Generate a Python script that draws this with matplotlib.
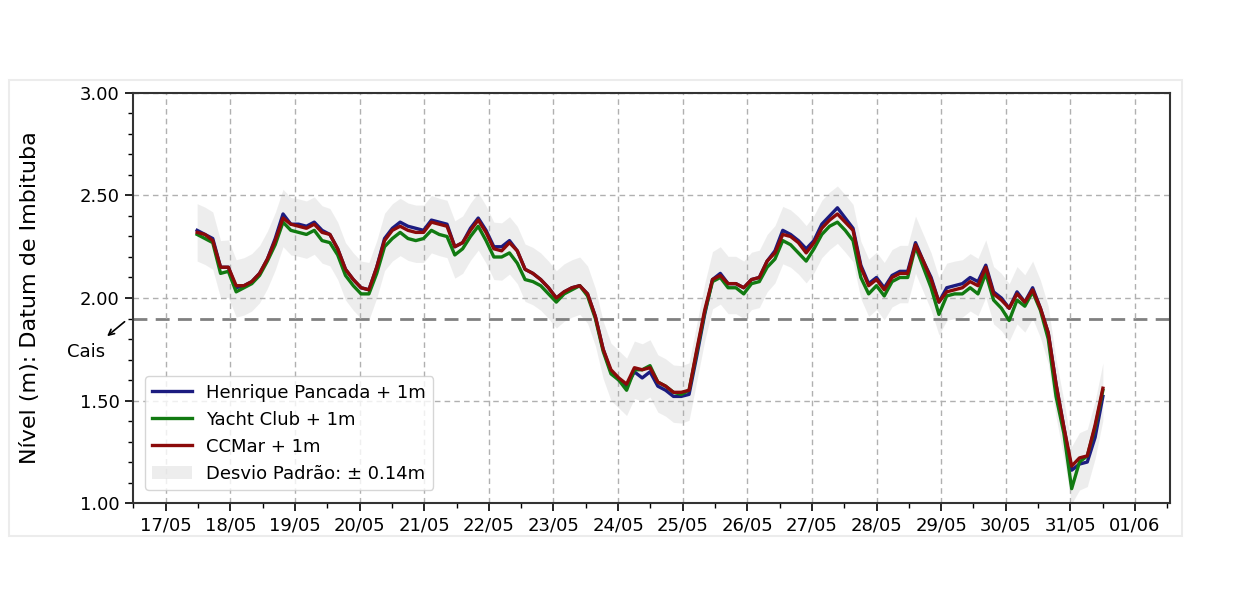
import numpy as np
import pandas as pd
import matplotlib
matplotlib.use("Agg")
import matplotlib.pyplot as plt
import matplotlib.dates as mdates
from matplotlib.patches import Rectangle

# nivel (m) a cada ~2.9h, a partir de 17/05 11:40
henrique = [2.33, 2.31, 2.29, 2.15, 2.15, 2.05, 2.06, 2.08, 2.12, 2.19,
            2.29, 2.41, 2.36, 2.36, 2.35, 2.37, 2.33, 2.31, 2.24, 2.14,
            2.09, 2.05, 2.04, 2.15, 2.29, 2.34, 2.37, 2.35, 2.34, 2.33,
            2.38, 2.37, 2.36, 2.25, 2.27, 2.34, 2.39, 2.33, 2.25, 2.25,
            2.28, 2.23, 2.14, 2.12, 2.09, 2.05, 2.00, 2.03, 2.05, 2.06,
            2.02, 1.91, 1.75, 1.64, 1.60, 1.57, 1.64, 1.61, 1.64, 1.57,
            1.55, 1.52, 1.52, 1.53, 1.72, 1.92, 2.09, 2.12, 2.07, 2.07,
            2.05, 2.09, 2.10, 2.18, 2.23, 2.33, 2.31, 2.28, 2.24, 2.28,
            2.36, 2.40, 2.44, 2.39, 2.34, 2.16, 2.07, 2.10, 2.05, 2.11,
            2.13, 2.13, 2.27, 2.18, 2.10, 1.98, 2.05, 2.06, 2.07, 2.10,
            2.08, 2.16, 2.03, 2.00, 1.95, 2.03, 1.98, 2.05, 1.95, 1.83,
            1.58, 1.37, 1.16, 1.19, 1.20, 1.32, 1.52]

yacht = [2.31, 2.29, 2.27, 2.12, 2.13, 2.03, 2.05, 2.07, 2.11, 2.18,
         2.26, 2.37, 2.33, 2.32, 2.31, 2.33, 2.28, 2.27, 2.21, 2.11,
         2.06, 2.02, 2.02, 2.12, 2.25, 2.29, 2.32, 2.29, 2.28, 2.29,
         2.33, 2.31, 2.30, 2.21, 2.24, 2.30, 2.35, 2.28, 2.20, 2.20,
         2.22, 2.17, 2.09, 2.08, 2.06, 2.02, 1.98, 2.02, 2.04, 2.06,
         2.01, 1.90, 1.74, 1.63, 1.60, 1.55, 1.65, 1.65, 1.67, 1.59,
         1.57, 1.54, 1.53, 1.55, 1.74, 1.93, 2.08, 2.10, 2.05, 2.05,
         2.02, 2.07, 2.08, 2.15, 2.19, 2.28, 2.26, 2.22, 2.18, 2.24,
         2.31, 2.35, 2.37, 2.33, 2.28, 2.10, 2.02, 2.06, 2.01, 2.08,
         2.10, 2.10, 2.25, 2.15, 2.05, 1.92, 2.01, 2.02, 2.02, 2.05,
         2.02, 2.12, 1.99, 1.95, 1.89, 1.99, 1.96, 2.03, 1.94, 1.80,
         1.52, 1.34, 1.07, 1.20, 1.23, 1.37, 1.55]

ccmar = [2.32, 2.31, 2.28, 2.15, 2.15, 2.06, 2.06, 2.08, 2.12, 2.19,
         2.28, 2.39, 2.36, 2.35, 2.34, 2.36, 2.32, 2.31, 2.24, 2.14,
         2.09, 2.05, 2.04, 2.15, 2.28, 2.33, 2.35, 2.33, 2.32, 2.32,
         2.37, 2.36, 2.35, 2.25, 2.27, 2.33, 2.38, 2.32, 2.24, 2.23,
         2.27, 2.23, 2.14, 2.12, 2.09, 2.05, 2.00, 2.03, 2.05, 2.06,
         2.02, 1.91, 1.75, 1.65, 1.61, 1.58, 1.66, 1.65, 1.66, 1.59,
         1.57, 1.54, 1.54, 1.55, 1.75, 1.94, 2.09, 2.11, 2.07, 2.07,
         2.05, 2.09, 2.10, 2.18, 2.22, 2.31, 2.30, 2.27, 2.22, 2.27,
         2.34, 2.38, 2.41, 2.37, 2.33, 2.15, 2.06, 2.09, 2.04, 2.10,
         2.12, 2.12, 2.26, 2.18, 2.09, 1.98, 2.03, 2.04, 2.05, 2.08,
         2.06, 2.15, 2.02, 1.99, 1.95, 2.02, 1.98, 2.04, 1.95, 1.83,
         1.58, 1.37, 1.18, 1.22, 1.23, 1.38, 1.56]

desvio = 0.14
cais = 1.90
tempo = pd.date_range("2024-05-17 11:40", periods=len(ccmar), freq="174min")

media = (np.array(henrique) + np.array(yacht) + np.array(ccmar)) / 3

fig = plt.figure(figsize=(12.38, 5.96), dpi=100)
ax = fig.add_axes([0.1074, 0.156, 0.8377, 0.688])

ax.plot(tempo, henrique, color="#1c1c80", lw=2.4, label="Henrique Pancada + 1m")
ax.plot(tempo, yacht, color="#117a11", lw=2.4, label="Yacht Club + 1m")
ax.plot(tempo, ccmar, color="#8b0a0a", lw=2.4, label="CCMar + 1m")
ax.fill_between(tempo, media - desvio, media + desvio, color="#d9d9d9",
                alpha=0.45, lw=0, zorder=0, label="Desvio Padrão: ± 0.14m")

ax.axhline(cais, color="#808080", ls=(0, (5, 3)), lw=2, zorder=1)
ax.annotate("", xy=(-0.027, 1.805), xycoords=("axes fraction", "data"),
            xytext=(-0.006, 1.893), textcoords=("axes fraction", "data"),
            arrowprops=dict(arrowstyle="->", color="black", lw=1.2),
            annotation_clip=False)
ax.text(-0.0453, 1.737, "Cais", transform=ax.get_yaxis_transform(),
        ha="center", va="center", fontsize=13)

ax.set_ylim(1.0, 3.0)
ax.set_xlim(pd.Timestamp("2024-05-16 11:50"), pd.Timestamp("2024-06-01 13:00"))
ax.yaxis.set_major_locator(plt.MultipleLocator(0.5))
ax.yaxis.set_minor_locator(plt.MultipleLocator(0.1))
ax.yaxis.set_major_formatter(plt.FormatStrFormatter("%.2f"))
ax.xaxis.set_major_locator(mdates.DayLocator())
ax.xaxis.set_minor_locator(mdates.HourLocator(byhour=[12]))
ax.xaxis.set_major_formatter(mdates.DateFormatter("%d/%m"))
ax.tick_params(axis="both", which="major", labelsize=13, length=6, width=1.2)
ax.tick_params(axis="both", which="minor", length=3.5, width=1)
ax.grid(True, which="major", ls=(0, (4, 3)), color="#b0b0b0", lw=1)
for s in ax.spines.values():
    s.set_linewidth(1.5)
    s.set_color("#333333")

ax.set_ylabel("Nível (m): Datum de Imbituba", fontsize=16)
ax.yaxis.set_label_coords(-0.09, 0.5)

ax.legend(loc="lower left", fontsize=13, framealpha=0.8, edgecolor="#cccccc",
          bbox_to_anchor=(0.003, 0.01), handlelength=2.2)

fig.patches.append(Rectangle((0.007, 0.1), 0.948, 0.765, transform=fig.transFigure,
                             fill=False, edgecolor="#ececec", lw=1.5))

fig.savefig("out.png", dpi=100)
